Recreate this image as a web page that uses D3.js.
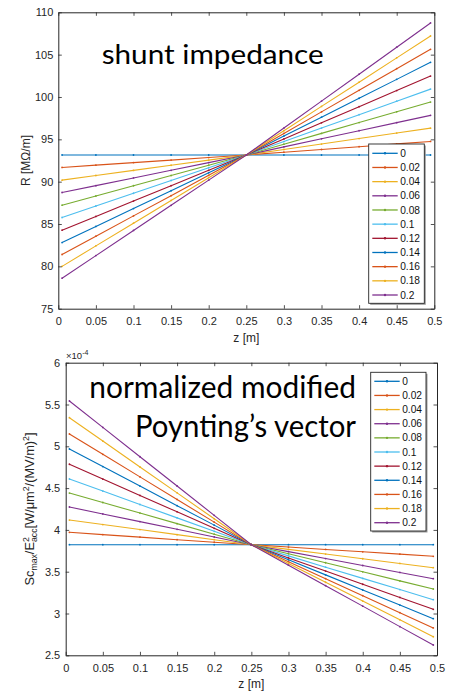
<!DOCTYPE html>
<html><head><meta charset="utf-8">
<script src="https://cdn.jsdelivr.net/npm/d3@7"></script>
<style>body{margin:0;background:#fff}svg{display:block}</style>
</head><body><svg id="c" width="452" height="692"></svg>
<script>
// ---- data ----
const zPos = [0.005,0.05,0.1,0.15,0.2,0.25,0.3,0.35,0.4,0.45,0.495];
const taperLabels = ["0","0.02","0.04","0.06","0.08","0.1","0.12","0.14","0.16","0.18","0.2"];
const xTicks = [0,0.05,0.1,0.15,0.2,0.25,0.3,0.35,0.4,0.45,0.5];
const xTickLabels = ["0","0.05","0.1","0.15","0.2","0.25","0.3","0.35","0.4","0.45","0.5"];
const rTicks = [75,80,85,90,95,100,105,110];
const rTickLabels = ["75","80","85","90","95","100","105","110"];
const scTicks = [2.5,3,3.5,4,4.5,5,5.5,6];
const scTickLabels = ["2.5","3","3.5","4","4.5","5","5.5","6"];
// shunt impedance R [MOhm/m], one row per taper value
const shuntR = [
 [93.15,93.15,93.15,93.15,93.15,93.15,93.15,93.15,93.15,93.15,93.15],
 [91.68,91.95,92.25,92.55,92.85,93.15,93.48,93.80,94.13,94.46,94.75],
 [90.18,90.73,91.33,91.94,92.54,93.15,93.80,94.44,95.09,95.74,96.32],
 [88.72,89.53,90.44,91.34,92.25,93.15,94.11,95.06,96.02,96.97,97.83],
 [87.22,88.31,89.52,90.73,91.94,93.15,94.43,95.70,96.98,98.25,99.40],
 [85.77,87.13,88.63,90.14,91.64,93.15,94.74,96.33,97.91,99.50,100.93],
 [84.27,85.90,87.71,89.53,91.34,93.15,95.05,96.95,98.86,100.76,102.47],
 [82.81,84.71,86.82,88.93,91.04,93.15,95.38,97.62,99.85,102.08,104.09],
 [81.40,83.56,85.96,88.35,90.75,93.15,95.70,98.24,100.79,103.34,105.63],
 [80.00,82.42,85.10,87.78,90.47,93.15,96.02,98.89,101.75,104.62,107.20],
 [78.60,81.27,84.24,87.21,90.18,93.15,96.33,99.51,102.69,105.88,108.74]
];
// normalized modified Poynting's vector (x1e-4)
const scNorm = [
 [3.823,3.823,3.823,3.823,3.823,3.823,3.823,3.823,3.823,3.823,3.823],
 [3.971,3.944,3.914,3.883,3.853,3.823,3.795,3.766,3.738,3.710,3.684],
 [4.118,4.064,4.004,3.943,3.883,3.823,3.767,3.711,3.655,3.599,3.548],
 [4.274,4.191,4.099,4.007,3.915,3.823,3.740,3.657,3.574,3.491,3.416],
 [4.441,4.328,4.201,4.075,3.949,3.823,3.715,3.607,3.499,3.390,3.293],
 [4.609,4.465,4.304,4.144,3.983,3.823,3.689,3.554,3.420,3.286,3.165],
 [4.785,4.608,4.412,4.216,4.019,3.823,3.665,3.508,3.350,3.192,3.050],
 [4.968,4.758,4.524,4.290,4.057,3.823,3.642,3.462,3.281,3.101,2.938],
 [5.147,4.904,4.634,4.364,4.093,3.823,3.620,3.416,3.213,3.010,2.827],
 [5.342,5.063,4.753,4.443,4.133,3.823,3.598,3.374,3.149,2.924,2.722],
 [5.542,5.226,4.875,4.525,4.174,3.823,3.578,3.333,3.088,2.843,2.623]
];
const colors = ["#0072BD","#D95319","#EDB120","#7E2F8E","#77AC30","#4DBEEE","#A2142F","#0072BD","#D95319","#EDB120","#7E2F8E"];

// ---- drawing ----
const svg = d3.select("#c");
const AX = "#262626";
const AXFONT = "'Liberation Sans', Arial, Helvetica, sans-serif";

function panel(o){
  const x = d3.scaleLinear().domain([0,0.5]).range([o.l,o.r]);
  const y = d3.scaleLinear().domain(o.yDomain).range([o.b,o.t]);
  const g = svg.append("g");

  // series
  const line = d3.line().x((d,i)=>x(zPos[i])).y(d=>y(d));
  o.data.forEach((s,k)=>{
    g.append("path").attr("d",line(s)).attr("fill","none")
     .attr("stroke",colors[k]).attr("stroke-width",1.1);
    g.selectAll(null).data(s).enter().append("circle")
     .attr("cx",(d,i)=>x(zPos[i])).attr("cy",d=>y(d)).attr("r",0.9)
     .attr("fill",colors[k]);
  });

  // axes
  const TS = 3.5;
  const xb = g.append("g").attr("transform",`translate(0,${o.b})`)
    .call(d3.axisBottom(x).tickValues(xTicks).tickFormat((d,i)=>xTickLabels[i]).tickSizeInner(-TS).tickSizeOuter(0).tickPadding(8.5));
  const xt = g.append("g").attr("transform",`translate(0,${o.t})`)
    .call(d3.axisTop(x).tickValues(xTicks).tickFormat("").tickSizeInner(-TS).tickSizeOuter(0));
  const yl = g.append("g").attr("transform",`translate(${o.l},0)`)
    .call(d3.axisLeft(y).tickValues(o.yTicks).tickFormat((d,i)=>o.yTickLabels[i]).tickSizeInner(-TS).tickSizeOuter(0).tickPadding(o.yPad));
  const yr = g.append("g").attr("transform",`translate(${o.r},0)`)
    .call(d3.axisRight(y).tickValues(o.yTicks).tickFormat("").tickSizeInner(-TS).tickSizeOuter(0));
  [xb,xt,yl,yr].forEach(a=>{
    a.selectAll("path.domain").attr("stroke",AX).attr("stroke-width",1);
    a.selectAll("line").attr("stroke",AX).attr("stroke-width",0.8);
    a.selectAll("text").attr("fill",AX).style("font-family",AXFONT).style("font-size","11px");
  });

  // x label
  g.append("text").attr("x",(o.l+o.r)/2).attr("y",o.xLabY).attr("text-anchor","middle")
   .attr("fill",AX).style("font-family",AXFONT).style("font-size","12px").text("z [m]");

  // legend
  const L = o.leg;
  const lg = g.append("g");
  lg.append("rect").attr("x",L.x+1.5).attr("y",L.y+1.5).attr("width",L.w).attr("height",L.h).attr("fill","#9a9a9a");
  lg.append("rect").attr("x",L.x).attr("y",L.y).attr("width",L.w).attr("height",L.h)
    .attr("fill","#fff").attr("stroke",AX).attr("stroke-width",0.9);
  taperLabels.forEach((t,k)=>{
    const yy = L.first + k*L.step;
    lg.append("line").attr("x1",L.x+3.6).attr("x2",L.x+29).attr("y1",yy).attr("y2",yy)
      .attr("stroke",colors[k]).attr("stroke-width",1.3);
    lg.append("circle").attr("cx",L.x+16.3).attr("cy",yy).attr("r",1.2).attr("fill",colors[k]);
    lg.append("text").attr("x",L.x+31.5).attr("y",yy+3.6).attr("fill","#111")
      .style("font-family",AXFONT).style("font-size","10.2px").text(t);
  });
  return g;
}

panel({l:58.3,r:434.3,t:12.3,b:308.7,yDomain:[75,110],yTicks:rTicks,yTickLabels:rTickLabels,yPad:5,
  data:shuntR,xLabY:342,
  leg:{x:368.7,y:144,w:55.6,h:159.3,first:153.3,step:14.17}});
panel({l:65.7,r:437,t:362.7,b:655.3,yDomain:[2.5,6],yTicks:scTicks,yTickLabels:scTickLabels,yPad:5.5,
  data:scNorm,xLabY:688,
  leg:{x:370.7,y:372.3,w:55.3,h:158.7,first:381.3,step:14.14}});

// y labels
svg.append("text").attr("transform","translate(30,160.5) rotate(-90)").attr("text-anchor","middle")
  .attr("fill",AX).style("font-family",AXFONT).style("font-size","12px").text("R [MΩ/m]");

const yl2 = svg.append("text").attr("transform","translate(33.5,509) rotate(-90)").attr("text-anchor","middle")
  .attr("fill",AX).style("font-family",AXFONT).style("font-size","12.8px");
yl2.append("tspan").text("Sc");
yl2.append("tspan").style("font-size","8.7px").attr("dy",3).text("max");
yl2.append("tspan").attr("dy",-3).text("/E");
yl2.append("tspan").style("font-size","8.7px").attr("dy",-5).text("2");
yl2.append("tspan").style("font-size","8.7px").attr("dx",-4.8).attr("dy",8).text("acc");
yl2.append("tspan").attr("dy",-3).text("[W/μm");
yl2.append("tspan").style("font-size","8.7px").attr("dy",-5).text("2");
yl2.append("tspan").attr("dy",5).text("/(MV/m)");
yl2.append("tspan").style("font-size","8.7px").attr("dy",-5).text("2");
yl2.append("tspan").attr("dy",5).text("]");

// exponent
const ex = svg.append("text").attr("x",66).attr("y",358.5).attr("fill",AX)
  .style("font-family",AXFONT).style("font-size","9.5px");
ex.append("tspan").text("×10");
ex.append("tspan").style("font-size","7px").attr("dy",-4).text("-4");

// panel titles
const TF = "Lato, 'Open Sans', sans-serif";
svg.append("text").attr("x",101.7).attr("y",64).attr("fill","#000").style("font-family",TF).style("font-size","27.5px")
  .attr("textLength",222).attr("lengthAdjust","spacingAndGlyphs").text("shunt impedance");
svg.append("text").attr("x",89.3).attr("y",397.5).attr("fill","#000").style("font-family",TF).style("font-size","31px")
  .attr("textLength",266.7).attr("lengthAdjust","spacingAndGlyphs").text("normalized modified");
svg.append("text").attr("x",135).attr("y",436.5).attr("fill","#000").style("font-family",TF).style("font-size","31px")
  .attr("textLength",221).attr("lengthAdjust","spacingAndGlyphs").text("Poynting’s vector");
</script></body></html>
